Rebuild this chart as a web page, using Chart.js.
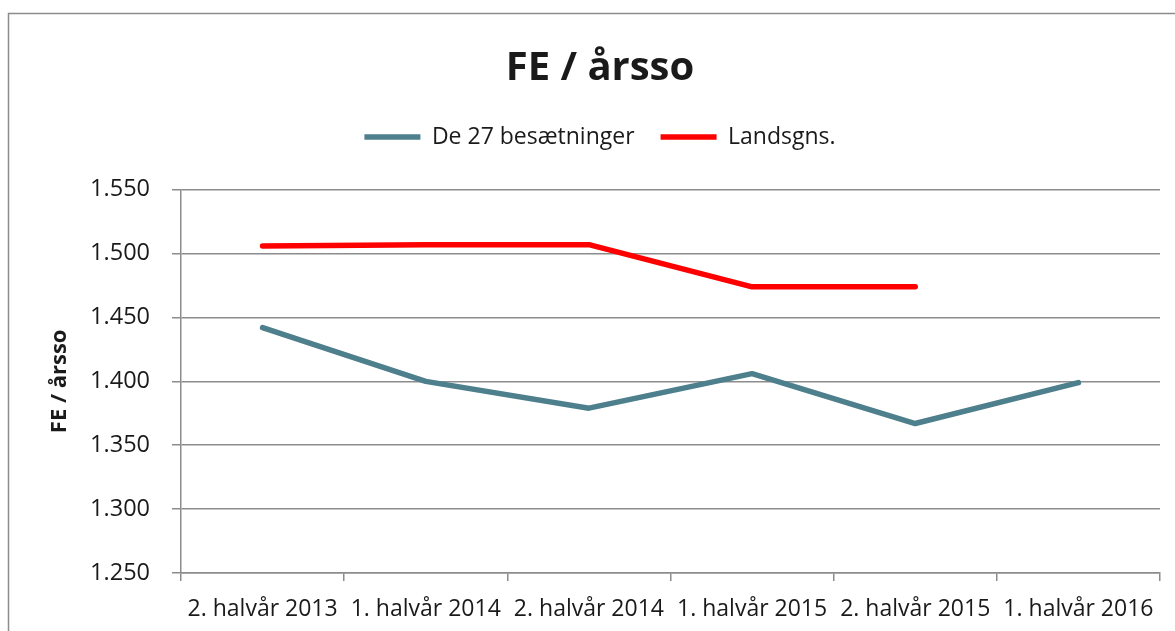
<!DOCTYPE html>
<html>
<head>
<meta charset="utf-8">
<script src="https://cdn.jsdelivr.net/npm/chart.js@4/dist/chart.umd.min.js"></script>
<style>
    html, body { margin: 0; padding: 0; background: #fff; }
    #wrap { width: 1175px; height: 631px; }
</style>
</head>
<body>
<div id="wrap"><canvas id="feChart"></canvas></div>
<script>
// Chart data
const categories = ["2. halvår 2013", "1. halvår 2014", "2. halvår 2014", "1. halvår 2015", "2. halvår 2015", "1. halvår 2016"];
const besaetninger = [1.442, 1.400, 1.379, 1.406, 1.367, 1.399];
const landsgns = [1.506, 1.507, 1.507, 1.474, 1.474, null];
const yTicks = [1.250, 1.300, 1.350, 1.400, 1.450, 1.500, 1.550];

(function () {
    const font = "'Open Sans', 'DejaVu Sans', sans-serif";
    const gridColor = "#8c8c8c";

    // Outer frame of the chart object (top and left edges visible)
    const framePlugin = {
        id: "frame",
        beforeDraw(chart) {
            const ctx = chart.ctx;
            ctx.save();
            ctx.strokeStyle = "#8c8c8c";
            ctx.lineWidth = 1.5;
            ctx.strokeRect(8.5, 13.5, chart.width + 20, chart.height + 20);
            ctx.restore();
        }
    };

    const ctx = document.getElementById("feChart").getContext("2d");
    new Chart(ctx, {
        type: "line",
        data: {
            labels: categories,
            datasets: [
                {
                    label: "De 27 besætninger",
                    data: besaetninger,
                    borderColor: "#4d7f8c",
                    backgroundColor: "#4d7f8c",
                    borderWidth: 5.5,
                    borderCapStyle: "round",
                    borderJoinStyle: "round",
                    pointRadius: 0,
                    tension: 0
                },
                {
                    label: "Landsgns.",
                    data: landsgns,
                    borderColor: "#ff0000",
                    backgroundColor: "#ff0000",
                    borderWidth: 5.5,
                    borderCapStyle: "round",
                    borderJoinStyle: "round",
                    pointRadius: 0,
                    tension: 0
                }
            ]
        },
        options: {
            responsive: true,
            maintainAspectRatio: false,
            animation: false,
            // left padding centres title and legend like the reference
            layout: { padding: { top: 0, left: 40, right: 15, bottom: 0 } },
            plugins: {
                title: {
                    display: true,
                    text: "FE / årsso",
                    color: "#1a1a1a",
                    font: { family: font, size: 40, weight: "bold" },
                    padding: { top: 45, bottom: 6.5 }
                },
                legend: {
                    position: "top",
                    labels: {
                        color: "#1a1a1a",
                        font: { family: font, size: 23 },
                        usePointStyle: true,
                        pointStyle: "line",
                        pointStyleWidth: 56,
                        padding: 26
                    }
                },
                subtitle: {
                    display: true,
                    text: "",
                    weight: 500,
                    font: { size: 1 },
                    padding: { top: 0, bottom: 30 }
                },
                tooltip: { enabled: false }
            },
            scales: {
                x: {
                    offset: true,
                    afterFit(scale) { scale.height = 58; },
                    grid: {
                        offset: true,
                        drawOnChartArea: false,
                        drawTicks: true,
                        tickLength: 8,
                        color: gridColor,
                        lineWidth: 1.5
                    },
                    border: { color: gridColor, width: 1.5 },
                    ticks: {
                        color: "#1a1a1a",
                        font: { family: font, size: 23 },
                        maxRotation: 0,
                        autoSkip: false,
                        padding: 15
                    }
                },
                y: {
                    min: 1.25,
                    max: 1.55,
                    afterFit(scale) { scale.width = 141; },
                    afterBuildTicks(scale) {
                        scale.ticks = yTicks.map(v => ({ value: v }));
                    },
                    grid: {
                        color: gridColor,
                        lineWidth: 1.5,
                        drawTicks: true,
                        tickLength: 9
                    },
                    border: { color: gridColor, width: 1.5 },
                    ticks: {
                        color: "#1a1a1a",
                        font: { family: font, size: 23.5 },
                        padding: 22,
                        callback: v => v.toFixed(3)
                    },
                    title: {
                        display: true,
                        text: "FE / årsso",
                        color: "#1a1a1a",
                        font: { family: font, size: 22, weight: "bold" },
                        padding: { top: 7, bottom: 0 }
                    }
                }
            }
        },
        plugins: [framePlugin]
    });
})();
</script>
</body>
</html>
